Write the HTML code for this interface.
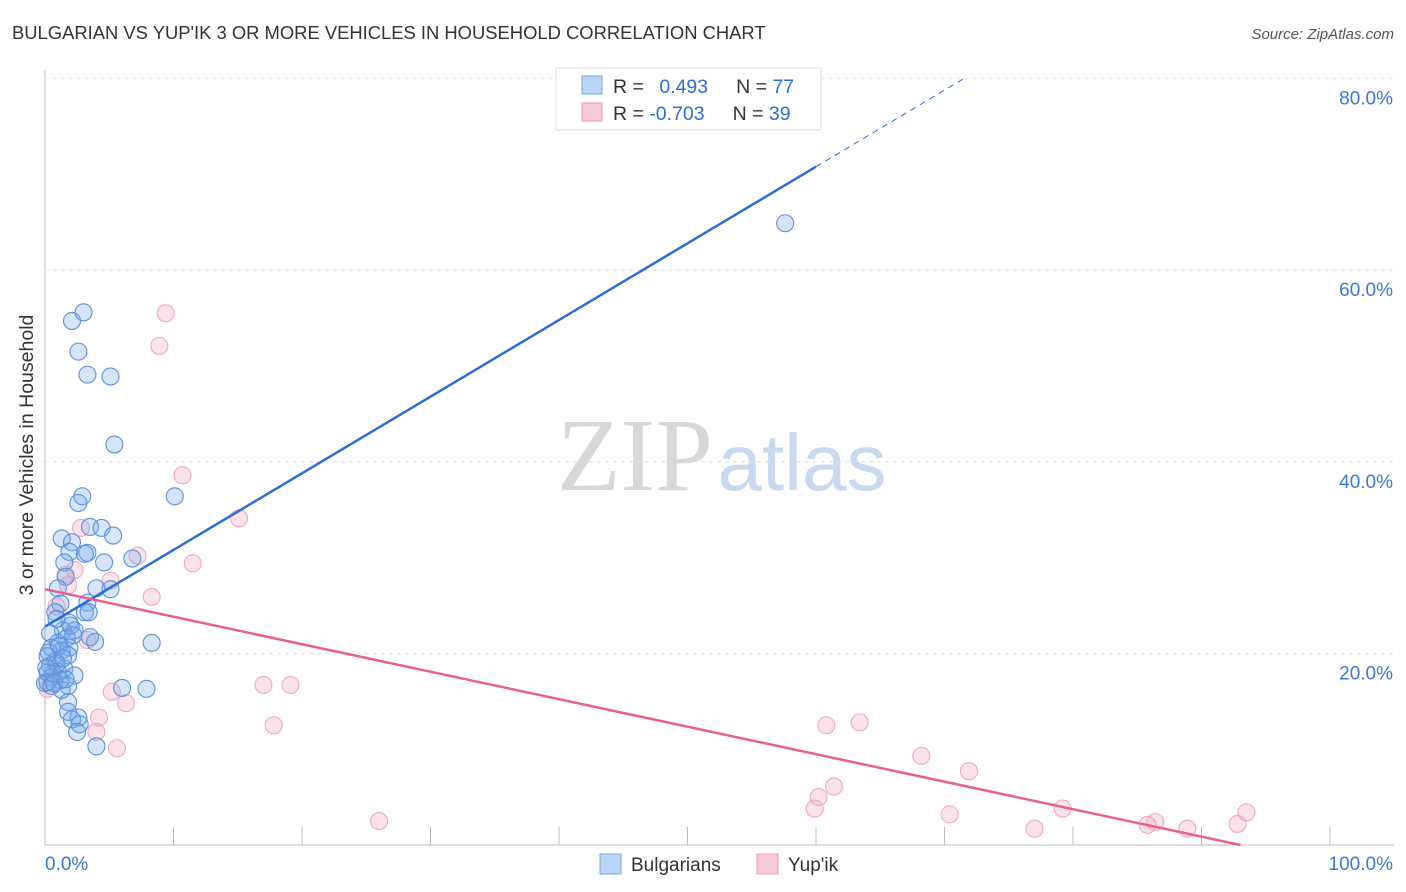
<!DOCTYPE html>
<html><head><meta charset="utf-8"><style>
body{margin:0;background:#fff;font-family:"Liberation Sans",sans-serif;}
svg{display:block}
</style></head><body>
<svg id="c" width="1406" height="892">
<text x="12" y="39" font-size="18.4" fill="#333">BULGARIAN VS YUP'IK 3 OR MORE VEHICLES IN HOUSEHOLD CORRELATION CHART</text>
<text x="1394" y="39" font-size="15" fill="#555" font-style="italic" text-anchor="end">Source: ZipAtlas.com</text>
<text x="33" y="455" font-size="19.5" fill="#333" text-anchor="middle" transform="rotate(-90 33 455)">3 or more Vehicles in Household</text>
<g><text x="635" y="490" font-size="104" font-family="Liberation Serif,serif" fill="#d8d8d8" text-anchor="middle">ZIP</text><text x="802" y="490" font-size="80" fill="#c9d9ef" text-anchor="middle">atlas</text></g>
<g id="grid"></g><g id="pts"></g><g id="lines"></g>
<g>
<rect x="556" y="68" width="265" height="62" fill="#fff" stroke="#ddd"/>
<rect x="582" y="76" width="20" height="18" fill="#b9d4f5" stroke="#7aa7e0"/>
<rect x="582" y="103" width="20" height="18" fill="#f9c9d8" stroke="#ee9bb6"/>
<text x="613" y="93" font-size="19.5" fill="#333">R = <tspan fill="#2b6fd6" dx="10">0.493</tspan><tspan dx="28" fill="#333">N = </tspan><tspan fill="#2b6fd6">77</tspan></text>
<text x="613" y="120" font-size="19.5" fill="#333">R = <tspan fill="#2b6fd6">-0.703</tspan><tspan dx="28" fill="#333">N = </tspan><tspan fill="#2b6fd6">39</tspan></text>
</g>
<g>
<rect x="600" y="854" width="21" height="20" fill="#b9d4f5" stroke="#7aa7e0"/><text x="631" y="871" font-size="19" fill="#333">Bulgarians</text>
<rect x="757" y="854" width="21" height="20" fill="#f9c9d8" stroke="#ee9bb6"/><text x="788" y="871" font-size="19" fill="#333">Yup'ik</text>
</g>
</svg>
<script>
const xTicks=[0,10,20,30,40,50,60,70,80,90,100];
const yTicks=[20,40,60,80];
const blueX=[57.6,3.0,2.1,2.6,3.3,5.1,5.4,10.1,2.9,2.6,3.5,4.4,5.3,1.3,2.1,1.9,3.3,3.1,4.6,6.8,1.5,1.6,4.0,5.1,1.0,3.3,1.2,3.1,0.8,3.4,1.9,2.3,1.4,0.4,3.5,3.9,1.7,1.0,8.3,0.5,1.9,1.3,0.2,0.8,1.8,0.4,1.5,1.0,0.2,2.3,0.5,1.2,0.0,1.8,6.0,7.9,1.3,1.8,1.8,2.6,2.1,2.7,2.5,4.0,0.2,0.5,0.9,0.3,1.1,0.6,2.0,1.4,0.7,0.1,1.6,2.2,0.9];
const blueY=[64.9,55.6,54.7,51.5,49.1,48.9,41.8,36.4,36.4,35.7,33.2,33.1,32.3,32.0,31.6,30.6,30.5,30.4,29.5,29.9,29.5,28.0,26.8,26.7,26.8,25.3,25.2,24.3,24.3,24.3,23.2,22.4,22.4,22.1,21.7,21.2,21.6,21.1,21.1,20.6,20.6,20.3,19.7,19.2,19.8,18.7,18.4,18.1,18.0,17.7,17.5,17.2,16.9,16.6,16.4,16.3,16.2,14.9,13.9,13.3,13.1,12.6,11.8,10.3,17.0,16.6,18.9,20.1,20.8,17.9,22.9,19.5,16.9,18.5,17.3,21.9,23.6];
const pinkX=[9.4,8.9,10.7,15.1,2.8,7.2,11.5,2.3,1.6,1.8,5.1,8.3,0.9,3.3,17.0,19.1,5.2,6.3,0.2,4.2,4.0,5.6,17.8,60.8,63.4,68.2,71.9,61.4,60.2,59.9,26.0,70.4,79.2,77.0,85.8,86.4,88.9,93.5,92.8];
const pinkY=[55.5,52.1,38.6,34.1,33.1,30.2,29.4,28.7,28.2,27.1,27.6,25.9,24.9,21.4,16.7,16.7,16.0,14.8,16.3,13.3,11.8,10.1,12.5,12.5,12.8,9.3,7.7,6.1,5.0,3.8,2.5,3.2,3.8,1.7,2.1,2.4,1.7,3.4,2.2];
const blueFit=[22.8,0.8], pinkFit=[26.7,-0.287];
const NS="http://www.w3.org/2000/svg";
const sx=v=>45+v*12.85, sy=v=>845-v*9.58;
function mk(t,a,p){const e=document.createElementNS(NS,t);for(const k in a)e.setAttribute(k,a[k]);p.appendChild(e);return e;}
const g=document.getElementById('grid');
mk('line',{x1:45,y1:70,x2:45,y2:845,stroke:'#bbb'},g);
mk('line',{x1:45,y1:845,x2:1394,y2:845,stroke:'#bbb'},g);
yTicks.forEach(v=>{const l=mk('line',{x1:45,y1:sy(v),x2:1394,y2:sy(v),stroke:'#ddd','stroke-dasharray':'4,4'},g);


const t=mk('text',{x:1393,y:sy(v)+26,'font-size':19,fill:'#3b78d8','text-anchor':'end'},g);t.textContent=v.toFixed(1)+'%';

});
xTicks.forEach(v=>{const l=mk('line',{x1:sx(v),y1:827,x2:sx(v),y2:845,stroke:'#bbb'},g);

});
[[0,'0.0%','start',45],[100,'100.0%','end',1393]].forEach(a=>{const t=mk('text',{x:a[3],y:870,'font-size':19,fill:'#3b78d8','text-anchor':a[2]},g);t.textContent=a[1];

});
const P=document.getElementById('pts');
pinkX.forEach((x,i)=>{const c=mk('circle',{cx:sx(x),cy:sy(pinkY[i]),r:8.5,fill:'rgba(245,160,190,0.3)',stroke:'#f0a8c0','stroke-width':1.1},P);

});
blueX.forEach((x,i)=>{const c=mk('circle',{cx:sx(x),cy:sy(blueY[i]),r:8.5,fill:'rgba(120,170,235,0.3)',stroke:'#5a92dc','stroke-width':1.1},P);

});
const L=document.getElementById('lines');
const bf=x=>blueFit[0]+blueFit[1]*x, pf=x=>pinkFit[0]+pinkFit[1]*x;
let l=mk('line',{x1:sx(0),y1:sy(bf(0)),x2:sx(60),y2:sy(bf(60)),stroke:'#2a6fd4','stroke-width':2.5},L);


const xe=(80-blueFit[0])/blueFit[1];
l=mk('line',{x1:sx(60),y1:sy(bf(60)),x2:sx(xe),y2:sy(80),stroke:'#2a6fd4','stroke-width':1,'stroke-dasharray':'6,5'},L);


const xz=-pinkFit[0]/pinkFit[1];
l=mk('line',{x1:sx(0),y1:sy(pf(0)),x2:sx(xz),y2:sy(0),stroke:'#e8608e','stroke-width':2.5},L);


</script>
</body></html>
